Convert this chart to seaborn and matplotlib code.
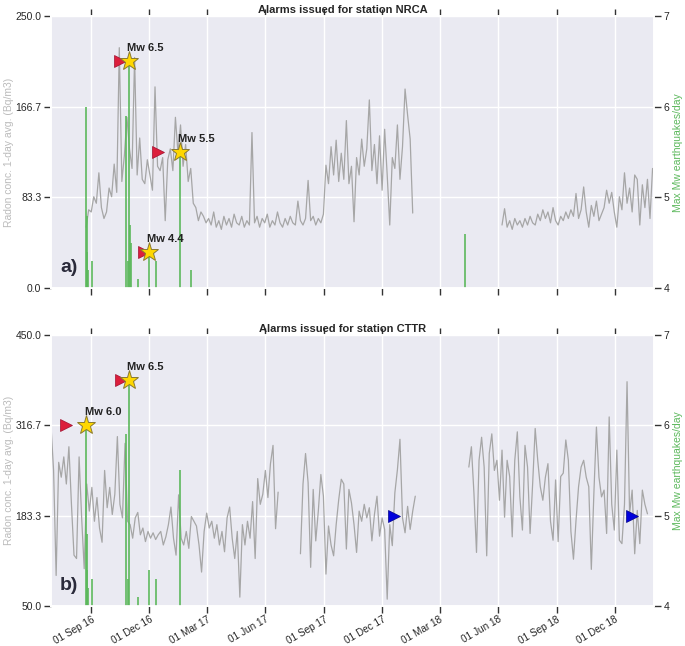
# Alarmas de radón para las estaciones NRCA y CTTR
import pandas as pd
import numpy as np
import matplotlib
matplotlib.use('Agg')
import matplotlib.pyplot as plt
import matplotlib.dates as mdates
from matplotlib.ticker import FormatStrFormatter
import seaborn as sns

sns.set_theme(style='darkgrid')
plt.rcParams['font.family'] = ['Liberation Sans', 'DejaVu Sans']

####################################################################
#  Datos (un valor cada 4 dias)
####################################################################
# NRCA radon, tramo 1 (desde 24 ago 2016)
nrca_ini1 = '2016-08-24'
nrca_radon1 = [56, 72,
               70, 84, 78, 106, 74, 64, 70, 92,
               84, 114, 88, 221, 98, 122, 157, 128,
               110, 212, 104, 138, 100, 96, 118,
               104, 90, 185, 112, 108, 120, 62, 118,
               128, 108, 157, 124, 150, 112, 132, 98,
               110, 78, 74, 62, 70, 66, 60,
               64, 58, 70, 56, 62, 54, 66,
               58, 64, 56, 68, 60, 58, 66, 56,
               62, 58, 143, 60, 66, 56, 64, 60,
               68, 56, 62, 58, 70, 60, 56,
               64, 58, 66, 60, 58, 80, 62, 58,
               64, 99, 62, 66, 58, 64, 60, 68,
               113, 96, 130, 104, 136, 98, 124,
               100, 154, 96, 112, 61, 120, 104, 137,
               112, 128, 173, 108, 132, 96, 140,
               90, 146, 104, 58, 120, 110, 150, 100,
               130, 183, 159, 137, 69]
# NRCA radon, tramo 2 (desde 7 jun 2018)
nrca_ini2 = '2018-06-07'
nrca_radon2 = [58, 73, 56, 62, 54, 64,
               58, 62, 56, 64, 58, 66, 60, 58,
               68, 62, 72, 64, 70, 60, 74, 62,
               58, 66, 62, 70, 64, 72, 66,
               87, 64, 72, 93, 70, 56, 76, 66,
               80, 62, 68, 74, 90, 78, 88, 70,
               56, 84, 72, 106, 78, 92, 70,
               104, 100, 58, 95, 74, 100, 64, 110]

# CTTR radon, tres tramos
cttr_ini1 = '2016-06-30'
cttr_radon1 = [315,
               250, 95, 262, 240, 270, 230, 285,
               200, 125, 120, 270, 180, 105, 230, 190,
               225, 175, 210, 165, 144, 250, 195, 225,
               185, 215, 300, 200, 180, 290, 175,
               170, 150, 180, 188, 155, 165, 145, 160,
               150, 158, 148, 155, 160, 140, 152, 170,
               196, 150, 125, 214, 150, 140, 160,
               135, 182, 175, 168, 140, 100, 160,
               187, 165, 175, 150, 170, 140, 160, 130,
               180, 196, 150, 120, 160, 63, 170, 140,
               175, 150, 204, 120, 238, 200, 215,
               250, 210, 260, 287, 164, 218]
cttr_ini2 = '2017-07-26'
cttr_radon2 = [127, 230, 275, 232, 107, 222, 146, 190, 244, 212,
               97, 168, 140, 124, 170, 207, 237, 230, 134, 222,
               202, 170, 129, 190, 175, 200, 180, 195, 146, 185,
               212, 153, 180, 163, 60, 170, 139, 217, 251, 296,
               180, 158, 197, 163, 190, 212]
cttr_ini3 = '2018-04-16'
cttr_radon3 = [255, 285, 216, 129,
               265, 299, 255, 124, 275, 304, 250, 265,
               206, 280, 181, 265, 241, 152, 265,
               307, 211, 162, 287, 255, 157, 230, 312,
               265, 226, 206, 240, 260, 175, 147, 236,
               145, 241, 246, 295, 265, 160, 119,
               176, 226, 255, 265, 240, 226, 104, 216,
               314, 240, 211, 221, 157, 329, 200, 162,
               280, 147, 142, 200, 381, 186, 221,
               127, 191, 142, 221, 200, 186]

# Sismos: magnitud maxima diaria
nrca_sismo_fecha = ['2016-08-24', '2016-08-25', '2016-08-26', '2016-08-27', '2016-09-03',
                    '2016-10-26', '2016-10-28', '2016-10-30', '2016-11-01', '2016-11-02',
                    '2016-11-13', '2016-11-30', '2016-12-11', '2017-01-18', '2017-02-04',
                    '2018-04-10']
nrca_sismo_mw = [6.0, 4.8, 4.4, 4.2, 4.3,
                 5.9, 4.3, 6.5, 4.7, 4.5,
                 4.1, 4.4, 4.3, 5.5, 4.2,
                 4.6]
cttr_sismo_fecha = ['2016-08-24', '2016-08-25', '2016-08-26', '2016-08-27', '2016-09-03',
                    '2016-10-26', '2016-10-28', '2016-10-30', '2016-11-13', '2016-11-30',
                    '2016-12-11', '2017-01-18']
cttr_sismo_mw = [6.0, 4.8, 4.4, 4.2, 4.3,
                 5.9, 4.3, 6.5, 4.1, 4.4,
                 4.3, 5.5]

# Sismos destacados (estrellas)
nrca_estrella_fecha = ['2016-10-30', '2017-01-18', '2016-11-30']
nrca_estrella_mw = [6.5, 5.5, 4.4]
cttr_estrella_fecha = ['2016-08-24', '2016-10-30']
cttr_estrella_mw = [6.0, 6.5]

# Alarmas (triangulos)
nrca_alarma_fecha = ['2016-10-16', '2016-12-15', '2016-11-23']
nrca_alarma_mw = [6.5, 5.5, 4.4]
cttr_alarma_fecha = ['2016-07-24', '2016-10-18']
cttr_alarma_mw = [6.0, 6.5]
cttr_falsa_fecha = ['2017-12-19', '2018-12-28']
cttr_falsa_mw = [5.0, 5.0]


def tramo(inicio, valores, n):
    return pd.DataFrame({'fecha': pd.date_range(inicio, periods=len(valores), freq='4D'),
                         'radon': valores, 'seg': n})


df_a = pd.concat([tramo(nrca_ini1, nrca_radon1, 1), tramo(nrca_ini2, nrca_radon2, 2)])
df_b = pd.concat([tramo(cttr_ini1, cttr_radon1, 1), tramo(cttr_ini2, cttr_radon2, 2),
                  tramo(cttr_ini3, cttr_radon3, 3)])

####################################################################
#  Figura
####################################################################
fig = plt.figure(figsize=(6.85, 6.46), dpi=100)
ax_a = fig.add_axes([0.0745, 0.554, 0.880, 0.421])
ax_b = fig.add_axes([0.0745, 0.062, 0.880, 0.4195])

paneles = [
    (ax_a, df_a, (0, 250), 'NRCA', 'a)', nrca_sismo_fecha, nrca_sismo_mw,
     nrca_estrella_fecha, nrca_estrella_mw, nrca_alarma_fecha, nrca_alarma_mw, [], []),
    (ax_b, df_b, (50, 450), 'CTTR', 'b)', cttr_sismo_fecha, cttr_sismo_mw,
     cttr_estrella_fecha, cttr_estrella_mw, cttr_alarma_fecha, cttr_alarma_mw,
     cttr_falsa_fecha, cttr_falsa_mw),
]

for (ax, df, lim, estacion, letra, sf, smw, ef, emw, af, amw, ff, fmw) in paneles:
    sns.lineplot(data=df, x='fecha', y='radon', units='seg', estimator=None,
                 color='#a6a6a6', lw=0.9, ax=ax)
    ax.set_ylim(*lim)
    ax.set_yticks(np.linspace(lim[0], lim[1], 4))
    ax.yaxis.set_major_formatter(FormatStrFormatter('%.1f'))
    ax.set_xlim(pd.Timestamp('2016-06-30'), pd.Timestamp('2019-01-31'))
    ax.xaxis.set_major_locator(mdates.MonthLocator(bymonth=[3, 6, 9, 12], bymonthday=1))
    ax.xaxis.set_major_formatter(mdates.DateFormatter('%d %b %y'))
    ax.tick_params(axis='both', length=5, width=1, color='#333333', labelsize=7.5,
                   left=True, bottom=True, top=True, direction='out', pad=2)
    ax.tick_params(axis='x', labelsize=7.2, pad=1)
    ax.set_xlabel('')
    ax.set_ylabel('Radon conc. 1-day avg. (Bq/m3)', color='#bbbbbb', fontsize=7.5, labelpad=1)
    ax.set_title('Alarms issued for station ' + estacion, fontsize=8, fontweight='bold',
                 pad=2, x=0.4834)
    ax.text(0.015, 0.06, letra, transform=ax.transAxes, fontsize=14, fontweight='bold',
            color='#2a2a3a')

    ax2 = ax.twinx()
    ax2.grid(False)
    ax2.set_ylim(4, 7)
    ax2.set_yticks([4, 5, 6, 7])
    ax2.tick_params(axis='y', right=True, length=5, width=1, color='#333333', labelsize=7.5, pad=2)
    ax2.set_ylabel('Max Mw earthquakes/day', color='#5cb85c', fontsize=7.5, labelpad=3)
    ax2.vlines(pd.to_datetime(sf), 4, smw, color='#5cb85c', lw=1.4, alpha=0.85)
    ax2.plot(pd.to_datetime(af), amw, ls='none', marker='>', ms=8, color='#dc1e3c',
             mec='#a01030', mew=0.5)
    ax2.plot(pd.to_datetime(ff), fmw, ls='none', marker='>', ms=8, color='#0000dd',
             mec='#000088', mew=0.5)
    ax2.plot(pd.to_datetime(ef), emw, ls='none', marker='*', ms=14, color='#ffd700',
             mec='#8a7a30', mew=0.7)
    for f, m in zip(ef, emw):
        ax2.annotate('Mw %.1f' % m, xy=(pd.Timestamp(f), m), xytext=(-1, 6),
                     textcoords='offset points', fontsize=8, fontweight='bold',
                     ha='left', va='bottom', color='#222222')

ax_a.tick_params(labelbottom=False)
plt.setp(ax_b.get_xticklabels(), rotation=30, ha='right', rotation_mode='anchor')

fig.savefig('out.png', dpi=100)
